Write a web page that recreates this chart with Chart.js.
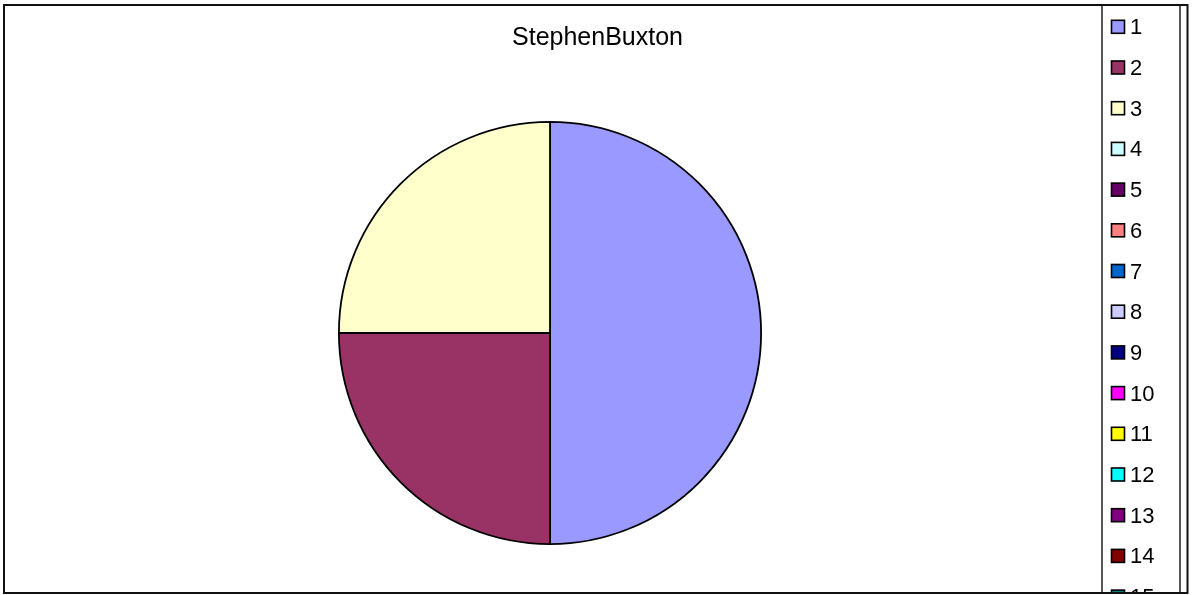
<!DOCTYPE html>
<html>
<head>
<meta charset="utf-8">
<title>StephenBuxton</title>
<script src="https://cdn.jsdelivr.net/npm/chart.js@4.4.0/dist/chart.umd.min.js"></script>
<style>
  html, body { margin: 0; padding: 0; background: #fff; overflow: hidden; }
  canvas { display: block; }
</style>
</head>
<body>
<canvas id="pie" width="1192" height="595"></canvas>
<script>
const chartTitle = 'StephenBuxton';
const labels = ['1', '2', '3', '4', '5', '6', '7', '8', '9', '10', '11', '12', '13', '14', '15', '16'];
const values = [2, 1, 1, 0, 0, 0, 0, 0, 0, 0, 0, 0, 0, 0, 0, 0];
const colors = ['#9999FF', '#993366', '#FFFFCC', '#CCFFFF', '#660066', '#FF8080', '#0066CC', '#CCCCFF',
                '#000080', '#FF00FF', '#FFFF00', '#00FFFF', '#800080', '#800000', '#008080', '#0000FF'];

const FONT = '"Liberation Sans", Arial, sans-serif';

// frame, title and the side legend (the legend runs past the bottom edge and gets clipped)
const sheetDecor = {
  id: 'sheetDecor',
  beforeDraw(chart) {
    const ctx = chart.ctx;
    ctx.save();
    ctx.fillStyle = '#ffffff';
    ctx.fillRect(0, 0, chart.width, chart.height);
    ctx.restore();
  },
  afterDraw(chart) {
    const ctx = chart.ctx;
    const ds = chart.data.datasets[0];
    ctx.save();

    // title
    ctx.fillStyle = '#000';
    ctx.font = '25px ' + FONT;
    ctx.textAlign = 'center';
    ctx.textBaseline = 'alphabetic';
    ctx.fillText(chartTitle, 597.5, 45);

    // legend
    const lx = 1102, rx = 1180, top = 5, bottom = 593;
    ctx.save();
    ctx.beginPath();
    ctx.rect(lx, top, rx - lx, bottom - top);
    ctx.clip();
    ctx.font = '22px ' + FONT;
    ctx.textAlign = 'left';
    ctx.textBaseline = 'alphabetic';
    chart.data.labels.forEach((lab, i) => {
      const cy = 26.8 + i * 40.7;
      ctx.fillStyle = ds.backgroundColor[i];
      ctx.fillRect(1111.5, cy - 6.5, 13, 13);
      ctx.lineWidth = 1.6;
      ctx.strokeStyle = '#000';
      ctx.strokeRect(1111.5, cy - 6.5, 13, 13);
      ctx.fillStyle = '#000';
      ctx.fillText(lab, 1130, cy + 7.5);
    });
    ctx.restore();

    ctx.lineWidth = 1.5;
    ctx.strokeStyle = '#222';
    ctx.beginPath();
    ctx.moveTo(lx, top);
    ctx.lineTo(lx, bottom);
    ctx.moveTo(rx, top);
    ctx.lineTo(rx, bottom);
    ctx.stroke();

    // outer border
    ctx.lineWidth = 2;
    ctx.strokeStyle = '#111';
    ctx.strokeRect(4, 5, 1183.5, 588);

    ctx.restore();
  }
};

new Chart(document.getElementById('pie'), {
  type: 'pie',
  data: {
    labels: labels,
    datasets: [{
      data: values,
      backgroundColor: colors,
      borderColor: '#000',
      borderWidth: 1.8
    }]
  },
  options: {
    responsive: false,
    devicePixelRatio: 1,
    animation: false,
    events: [],
    layout: {
      padding: { top: 121, bottom: 50, left: 10, right: 102 }
    },
    plugins: {
      legend: { display: false },
      title: { display: false },
      tooltip: { enabled: false }
    }
  },
  plugins: [sheetDecor]
});
</script>
</body>
</html>
